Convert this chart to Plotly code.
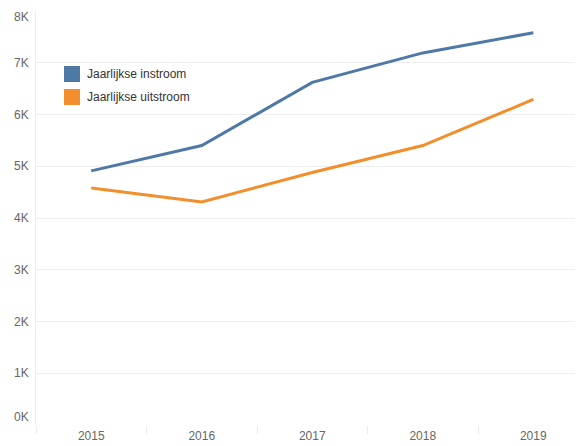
import plotly.graph_objects as go

years = ["2015", "2016", "2017", "2018", "2019"]
instroom = [4910, 5400, 6620, 7190, 7580]
uitstroom = [4580, 4310, 4880, 5400, 6290]
series_names = ["Jaarlijkse instroom", "Jaarlijkse uitstroom"]
series_colors = ["#4e79a7", "#f28e2b"]
y_ticks = [0, 1000, 2000, 3000, 4000, 5000, 6000, 7000, 8000]
y_tick_labels = ["0K", "1K", "2K", "3K", "4K", "5K", "6K", "7K", "8K"]

FONT = "Liberation Sans, Arial, sans-serif"

fig = go.Figure()
for name, vals, col in zip(series_names, [instroom, uitstroom], series_colors):
    fig.add_trace(go.Scatter(x=years, y=vals, mode="lines", name=name,
                             line=dict(color=col, width=3), showlegend=False,
                             hoverinfo="x+y+name"))

# y tick labels as annotations (end labels nudged inside, like the original)
for v, lab in zip(y_ticks, y_tick_labels):
    shift = 0
    if v == y_ticks[-1]:
        shift = -6
    elif v == y_ticks[0]:
        shift = 8
    fig.add_annotation(x=0, xref="paper", y=v, yref="y", text=lab, showarrow=False,
                       xanchor="right", yanchor="middle", xshift=-5, yshift=shift,
                       font=dict(family=FONT, size=12, color="#666666"))

# legend as swatches + labels
PL, PT, PW, PH = 36, 11, 547, 414
for i, (name, col) in enumerate(zip(series_names, series_colors)):
    ytop = 66 + i * 23
    fig.add_shape(type="rect", xref="paper", yref="paper",
                  x0=(64 - PL) / PW, x1=(80 - PL) / PW,
                  y0=1 - (ytop - PT) / PH, y1=1 - (ytop + 16 - PT) / PH,
                  fillcolor=col, line=dict(width=0))
    fig.add_annotation(xref="paper", yref="paper", x=(85 - PL) / PW,
                       y=1 - (ytop + 8 - PT) / PH, text=name, showarrow=False,
                       xanchor="left", yanchor="middle",
                       font=dict(family=FONT, size=12, color="#333333"))

# page body has an 8px margin, so the figure is sized/offset to compensate
fig.update_layout(
    width=575, height=438,
    margin=dict(l=28, r=0, t=3, b=21, autoexpand=False),
    plot_bgcolor="white", paper_bgcolor="white",
    font=dict(family=FONT, size=12, color="#666666"),
    showlegend=False,
    xaxis=dict(type="category", range=[-0.5, 4.45], showgrid=False, zeroline=False,
               tickson="boundaries", ticks="outside", ticklen=8, tickcolor="#ebebeb",
               ticklabelstandoff=2, automargin=False,
               showline=False, tickfont=dict(family=FONT, size=12, color="#666666"),
               fixedrange=True),
    yaxis=dict(range=[0, 8000], tickvals=y_ticks, showticklabels=False,
               showgrid=True, gridcolor="#eeeeee", gridwidth=1, zeroline=False,
               showline=True, linecolor="#ebebeb", linewidth=1, fixedrange=True,
               automargin=False),
)

fig.write_html("out.html")
